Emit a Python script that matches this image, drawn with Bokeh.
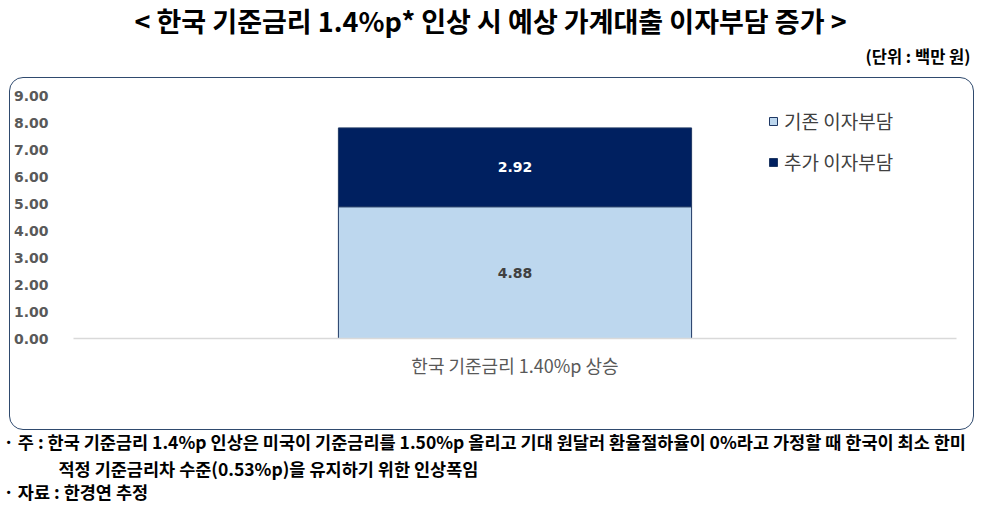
from bokeh.plotting import figure
from bokeh.layouts import column, row
from bokeh.models import (ColumnDataSource, Range1d, FactorRange, FixedTicker,
                          NumeralTickFormatter, Label, LabelSet, Spacer)
from bokeh.core.properties import value
from bokeh.embed import file_html
from bokeh.resources import INLINE

# ---- data ----
categories = ["한국 기준금리 1.40%p 상승"]
series_names = ["기존 이자부담", "추가 이자부담"]
existing_burden = [4.88]
additional_burden = [2.92]
y_ticks = [0, 1, 2, 3, 4, 5, 6, 7, 8, 9]

title_text = "< 한국 기준금리 1.4%p* 인상 시 예상 가계대출 이자부담 증가 >"
unit_text = "(단위 : 백만 원)"
note_line1 = "· 주 : 한국 기준금리 1.4%p 인상은 미국이 기준금리를 1.50%p 올리고 기대 원달러 환율절하율이 0%라고 가정할  때 한국이 최소 한미"
note_line2 = "적정 기준금리차 수준(0.53%p)을 유지하기 위한 인상폭임"
note_line3 = "· 자료 : 한경연 추정"

colors = ["#BDD7EE", "#002060"]
KR = "Noto Sans CJK KR"
NUM = "DejaVu Sans"


def text_panel(w, h):
    f = figure(width=w, height=h, output_backend="svg", toolbar_location=None,
               x_range=Range1d(0, 1), y_range=Range1d(0, 1),
               x_axis_location=None, y_axis_location=None, min_border=0)
    f.outline_line_color = None
    f.grid.visible = False
    f.border_fill_color = "white"
    return f


# ---- header ----
header = text_panel(988, 77)
header.add_layout(Label(x=490, y=57, x_units="screen", y_units="screen",
                        text=title_text, text_font=KR, text_font_size="27px",
                        text_font_style="bold", text_color="black",
                        text_align="center", text_baseline="middle"))
header.add_layout(Label(x=970, y=22, x_units="screen", y_units="screen",
                        text=unit_text, text_font=KR, text_font_size="16.5px",
                        text_font_style="bold", text_color="black",
                        text_align="right", text_baseline="middle"))

# ---- main chart ----
source = ColumnDataSource(dict(
    cat=categories,
    existing=existing_burden,
    additional=additional_burden,
))

p = figure(x_range=FactorRange(*categories), y_range=Range1d(0, 9),
           width=965, height=353, output_backend="svg", toolbar_location=None,
           title=None, min_border_left=59, min_border_right=19,
           min_border_top=17, min_border_bottom=93)
p.outline_line_color = None
p.background_fill_color = "white"
p.border_fill_color = None
p.styles = {"border": "1.5px solid #2F4A6E", "border-radius": "14px",
            "overflow": "hidden", "box-sizing": "border-box"}

p.vbar_stack(["existing", "additional"], x="cat", width=0.4, source=source,
             color=colors, line_color="#1F3864", line_width=1,
             legend_label=series_names)

lab_src = ColumnDataSource(dict(
    x=[categories[0], categories[0]],
    y=[existing_burden[0] / 2, existing_burden[0] + additional_burden[0] / 2],
    t=[f"{existing_burden[0]:.2f}", f"{additional_burden[0]:.2f}"],
    c=["#404040", "#FFFFFF"],
))
p.add_layout(LabelSet(x="x", y="y", text="t", source=lab_src,
                      text_color="c", text_font=value(NUM),
                      text_font_style="bold", text_font_size=value("14px"),
                      text_align="center", text_baseline="middle"))

p.yaxis.ticker = FixedTicker(ticks=y_ticks)
p.yaxis.formatter = NumeralTickFormatter(format="0.00")
p.yaxis.axis_line_color = None
p.yaxis.major_tick_line_color = None
p.yaxis.minor_tick_line_color = None
p.yaxis.major_label_standoff = 19
p.yaxis.major_label_text_font = NUM
p.yaxis.major_label_text_font_style = "bold"
p.yaxis.major_label_text_font_size = "14px"
p.yaxis.major_label_text_color = "#595959"

p.xaxis.axis_line_color = "#D9D9D9"
p.xaxis.axis_line_width = 1.5
p.xaxis.major_tick_line_color = None
p.xaxis.minor_tick_line_color = None
p.xaxis.major_label_standoff = 7
p.xaxis.major_label_text_font = KR
p.xaxis.major_label_text_font_size = "18px"
p.xaxis.major_label_text_color = "#595959"

p.xgrid.grid_line_color = None
p.ygrid.grid_line_color = None

leg = p.legend[0]
leg.location = (695, 163)
leg.border_line_color = None
leg.background_fill_alpha = 0
leg.padding = 0
leg.margin = 0
leg.glyph_width = 10
leg.glyph_height = 10
leg.label_height = 20
leg.spacing = 14
leg.label_standoff = 6
leg.label_text_font = KR
leg.label_text_font_size = "19px"
leg.label_text_color = "#404040"

# ---- footer ----
footer = text_panel(988, 75)
note_style = dict(x_units="screen", y_units="screen", text_font=KR,
                  text_font_size="17.5px", text_font_style="bold",
                  text_color="black", text_align="left", text_baseline="middle")
footer.add_layout(Label(x=3, y=64, text=note_line1, **note_style))
footer.add_layout(Label(x=58, y=37, text=note_line2, **note_style))
footer.add_layout(Label(x=3, y=14, text=note_line3, **note_style))

layout = column(header, row(Spacer(width=9, height=353), p), footer)

open("out.html", "w").write(file_html(layout, INLINE))
